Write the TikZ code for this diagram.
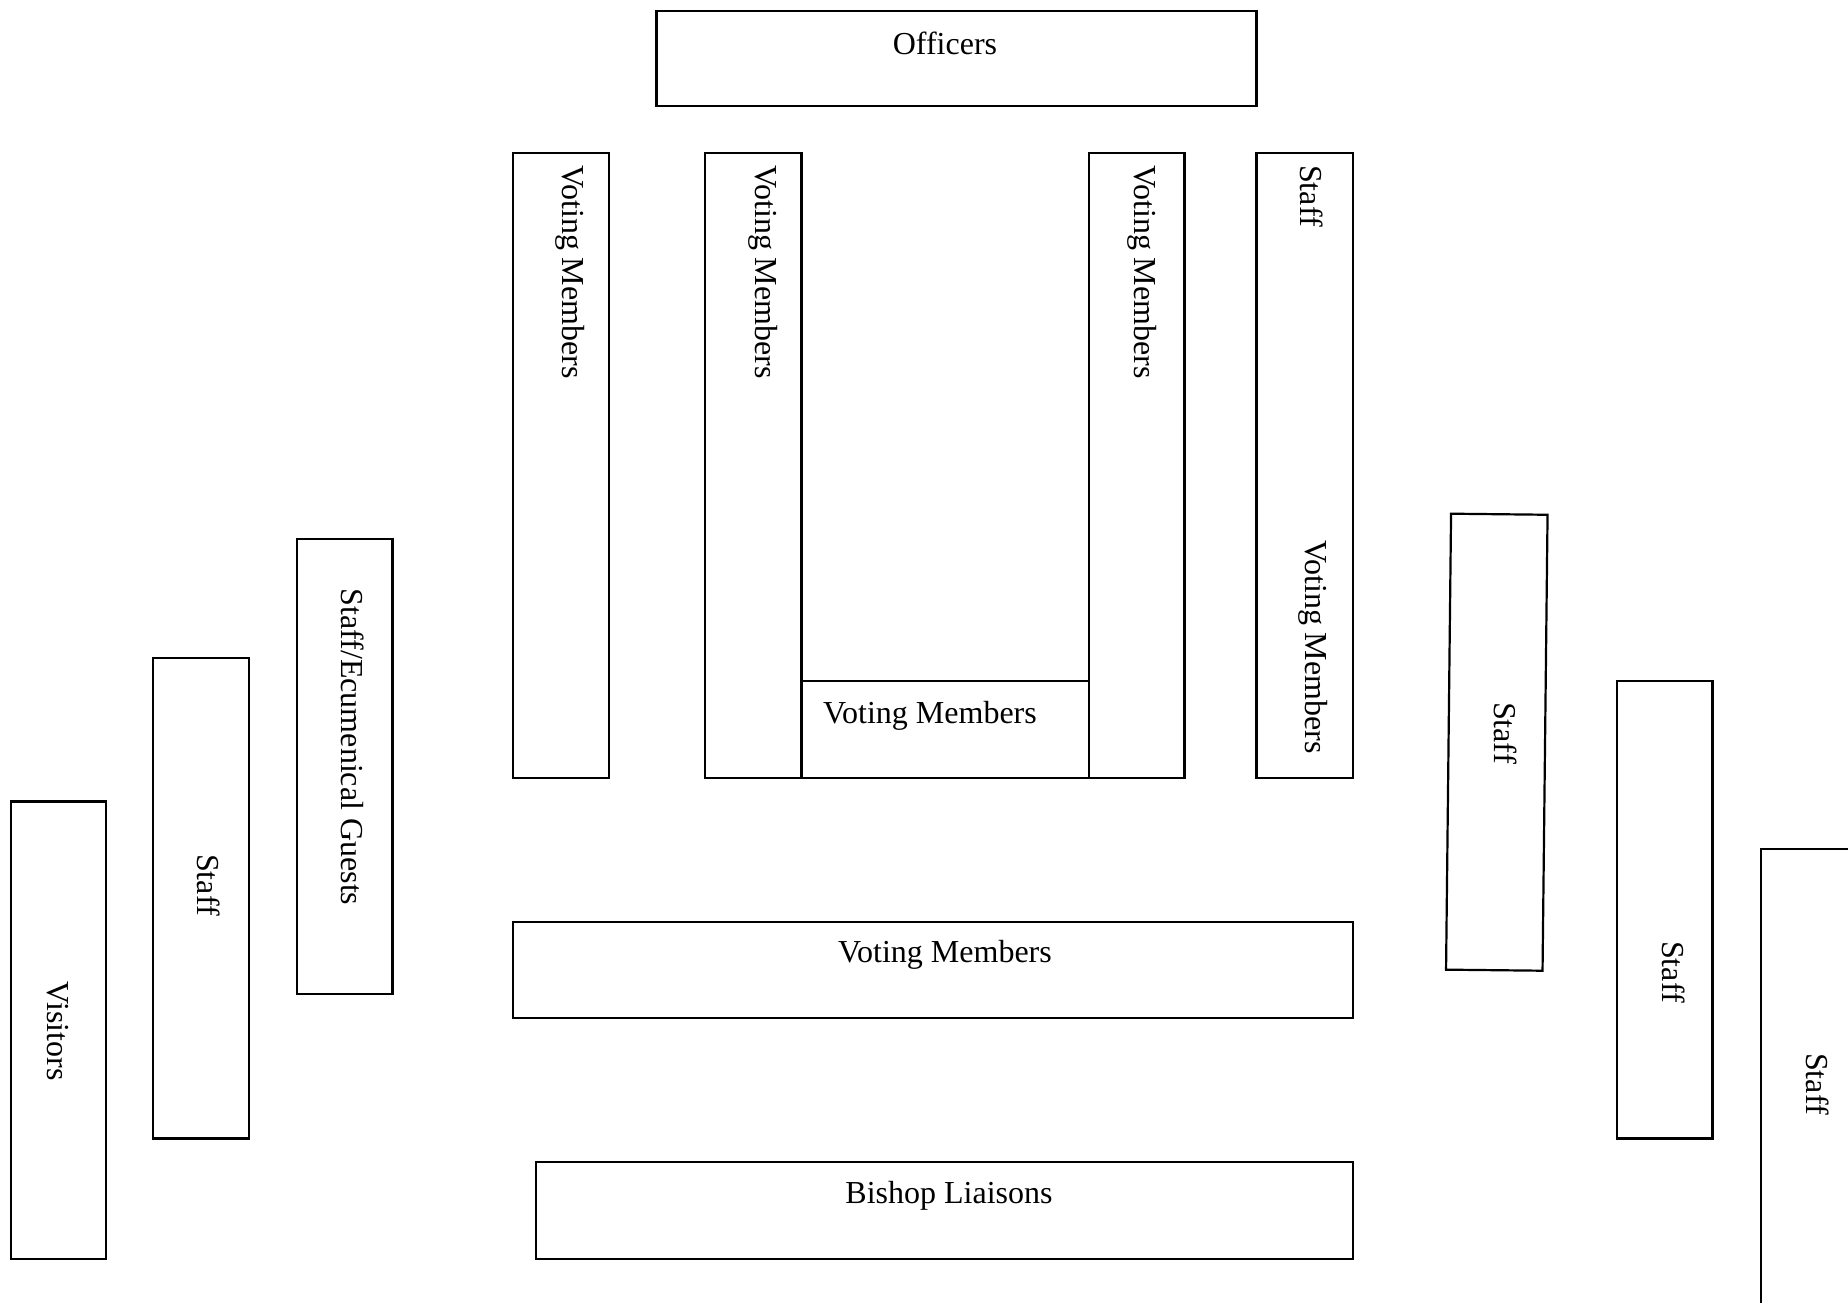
\documentclass[tikz,border=0pt]{standalone}
\usepackage{fontspec}
\setmainfont{Liberation Serif}
\begin{document}
\begin{tikzpicture}[x=1pt,y=-1pt,
  seat/.style={draw=black, line width=2.2pt},
  lbl/.style={font=\fontsize{32}{38}\selectfont, inner sep=0pt},
  vlbl/.style={lbl, rotate=-90},
  vtop/.style={vlbl, anchor=west}]
\path[use as bounding box] (0,0) rectangle (1848,1302);
\clip (0,0) rectangle (1848,1302);
\fill[white] (0,0) rectangle (1848,1302);

% Officers
\draw[seat] (656.5,10.6) rectangle (1256.4,106);
\node[lbl] (officers) at (945,43) {Officers};

% Voting member columns
\draw[seat] (512.7,153.2) rectangle (609.3,777.9);
\node[vtop] (vm1) at (570,165) {Voting Members};
\draw[seat] (704.8,153.2) rectangle (801.4,777.9);
\node[vtop] (vm2) at (763,165) {Voting Members};
\draw[seat] (1089,153.2) rectangle (1184.5,777.9);
\node[vtop] (vm3) at (1142,165) {Voting Members};
\draw[seat] (801.4,681.2) rectangle (1089,777.9);
\node[lbl] (vm4) at (930,716) {Voting Members};

% Staff / Voting members column
\draw[seat] (1256.4,153.2) rectangle (1353,777.9);
\node[vtop] (staffA) at (1312,165) {Staff};
\node[vtop] (vm5) at (1313,540) {Voting Members};

% Front rows
\draw[seat] (512.7,921.7) rectangle (1353,1018.3);
\node[lbl] (vm6) at (945,955) {Voting Members};
\draw[seat] (536.3,1162) rectangle (1353,1258.7);
\node[lbl] (bishop) at (949,1196) {Bishop Liaisons};

% Left side
\draw[seat] (297,538.6) rectangle (392.5,993.6);
\node[vlbl] (ecum) at (353,747) {Staff/Ecumenical Guests};
\draw[seat] (153,657.7) rectangle (248.7,1138.5);
\node[vlbl] (staffL) at (209,885) {Staff};
\draw[seat] (10.6,801.4) rectangle (106,1258.7);
\node[vlbl] (visitors) at (58,1031) {Visitors};

% Right side
\begin{scope}[shift={(1496.8,742.2)}, rotate=-0.63]
  \draw[seat] (-48.25,-228) rectangle (48.25,228);
\end{scope}
\node[lbl, rotate=-90.63] (staffT) at (1505.5,733) {Staff};
\draw[seat] (1617,681) rectangle (1712.5,1138.5);
\node[vlbl] (staffR) at (1674,972) {Staff};
\draw[seat] (1761,848.6) rectangle (1880,1340);
\node[vlbl] (staffE) at (1818,1084) {Staff};
\end{tikzpicture}
\end{document}
